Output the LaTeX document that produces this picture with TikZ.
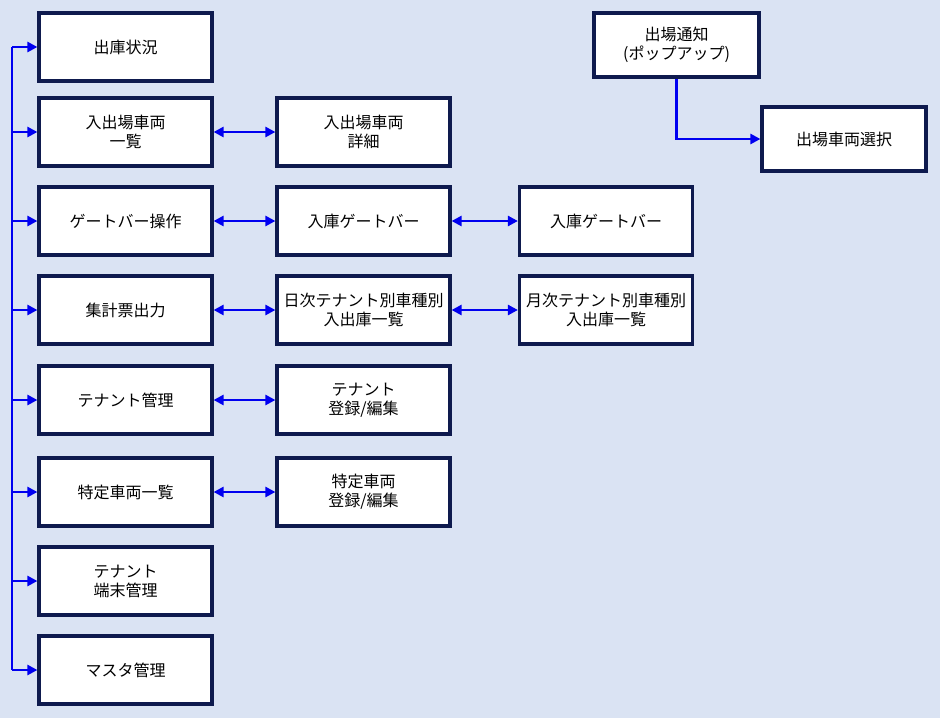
\documentclass[tikz,border=0pt]{standalone}
\usepackage{fontspec}
\setmainfont{Noto Sans CJK JP}
\usetikzlibrary{arrows.meta}
\definecolor{bg}{HTML}{DAE3F3}
\definecolor{nav}{HTML}{0E1A4E}
\definecolor{arr}{HTML}{0000F0}
\begin{document}
\begin{tikzpicture}[x=1pt,y=-1pt,
 box/.style={draw=nav,line width=3.2pt,fill=white,minimum width=173pt,minimum height=68pt,align=center,font=\fontsize{16}{19}\selectfont,inner sep=0pt},
 con/.style={draw=arr,line width=2.8pt,-{Triangle[length=10pt,width=10pt]}},
 dcon/.style={draw=arr,line width=2.8pt,{Triangle[length=10pt,width=10pt]}-{Triangle[length=10pt,width=10pt]}}]
\fill[bg] (0,0) rectangle (940,718);
\useasboundingbox (0,0) rectangle (940,718);
\node[box] (a1) at (125.5,47) {出庫状況};
\node[box] (a2) at (125.5,132) {入出場車両\\一覧};
\node[box] (a3) at (125.5,221) {ゲートバー操作};
\node[box] (a4) at (125.5,310) {集計票出力};
\node[box] (a5) at (125.5,400) {テナント管理};
\node[box] (a6) at (125.5,492) {特定車両一覧};
\node[box] (a7) at (125.5,581) {テナント\\端末管理};
\node[box] (a8) at (125.5,670) {マスタ管理};
\node[box] (b2) at (363.5,132) {入出場車両\\詳細};
\node[box] (b3) at (363.5,221) {入庫ゲートバー};
\node[box] (b4) at (363.5,310) {日次テナント別車種別\\入出庫一覧};
\node[box] (b5) at (363.5,400) {テナント\\登録/編集};
\node[box] (b6) at (363.5,492) {特定車両\\登録/編集};
\node[box] (c3) at (606,221) {入庫ゲートバー};
\node[box] (c4) at (606,310) {月次テナント別車種別\\入出庫一覧};
\node[box,minimum width=165pt,minimum height=64pt] (p1) at (676.5,45) {出場通知\\(ポップアップ)};
\node[box,minimum width=164pt,minimum height=64pt] (p2) at (844,139) {出場車両選択};
\coordinate (top) at (12,47);
\coordinate (bot) at (12,670);
\draw[draw=arr,line width=2.8pt] (top) -- (bot);
\foreach \n in {a1,a2,a3,a4,a5,a6,a7,a8} \draw[con] (12,0 |- \n.west) -- (\n.west);
\draw[dcon] (a2) -- (b2);
\draw[dcon] (a3) -- (b3);
\draw[dcon] (a4) -- (b4);
\draw[dcon] (a5) -- (b5);
\draw[dcon] (a6) -- (b6);
\draw[dcon] (b3) -- (c3);
\draw[dcon] (b4) -- (c4);
\draw[con] (p1.south) |- (p2.west);
\end{tikzpicture}
\end{document}
